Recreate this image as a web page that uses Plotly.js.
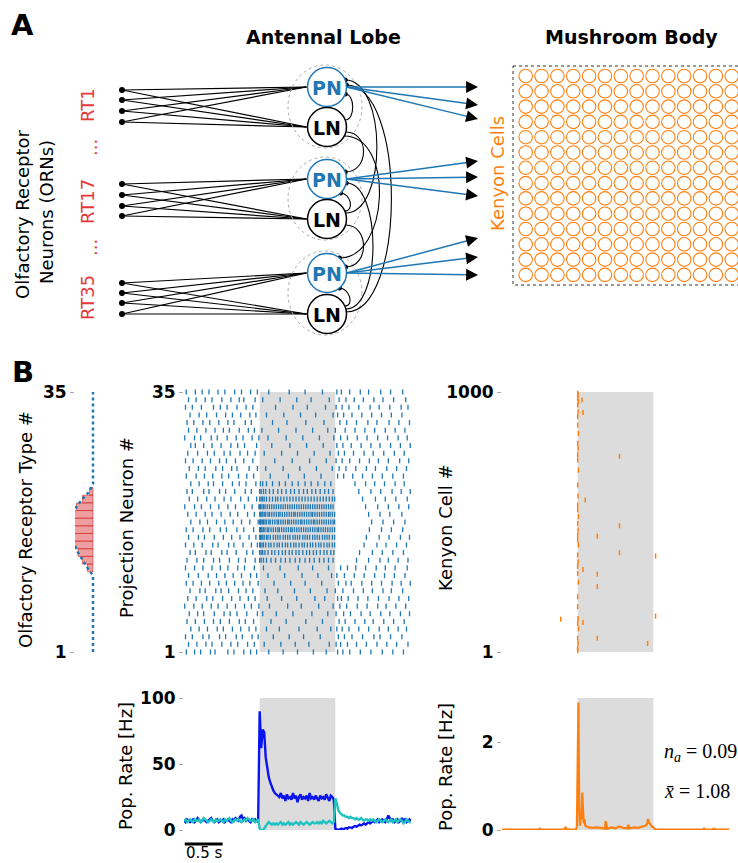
<!DOCTYPE html>
<html><head><meta charset="utf-8">
<script src="https://cdn.plot.ly/plotly-3.0.1.min.js"></script>
<style>html,body{margin:0;padding:0;background:#fff}#chart{width:738px;height:863px}</style>
</head><body><div id="chart"></div>
<script>
const W = 738, H = 863;

// ---------------- DATA ----------------
// ORN activation per receptor type (types 1..35)
const ornTypes = Array.from({length: 35}, (_, i) => i + 1);
const ornActive = {12:0.24,13:0.46,14:0.65,15:0.8,16:0.94,17:0.97,18:0.94,19:0.87,20:0.72,21:0.46,22:0.15};
const ornAct = ornTypes.map(t => ornActive[t] || 0);
const ornBarTypes = [12,13,14,15,16,17,18,19,20,21,22];
const ornBarVals  = [0.24,0.46,0.65,0.8,0.94,0.97,0.94,0.87,0.72,0.46,0.15];

// PN spike times (units of 10 ms), one list per projection neuron, row 1 .. 35
const pnRows = [
 [3,14,22,35,41,58,66,79,88,96,112,131,150,171,188,203,210,219,233,247,262,276,290],
 [6,17,29,37,50,62,71,84,93,106,128,147,165,192,201,207,216,228,241,255,268,281,296],
 [2,11,25,33,47,55,69,77,90,98,118,139,158,180,204,212,222,236,251,259,273,288],
 [9,20,31,44,52,64,75,86,95,109,126,152,176,194,202,209,218,231,244,258,270,283,294],
 [4,15,27,39,48,60,73,81,92,115,135,161,183,205,213,226,239,250,264,277,291],
 [7,18,26,40,53,61,70,83,97,104,122,144,169,190,201,211,220,234,246,260,272,286,298],
 [1,13,24,36,45,57,68,80,89,99,113,137,155,178,197,206,215,229,242,256,267,280,293],
 [5,16,30,38,51,63,74,85,94,110,129,149,173,186,203,208,217,230,243,257,271,284,297],
 [8,21,28,42,49,59,72,82,91,107,124,146,167,189,200,210,224,237,249,263,274,289],
 [3,12,23,34,46,56,67,78,87,98,119,141,160,182,204,214,221,235,248,261,275,287,299],
 [6,19,32,43,54,65,76,88,96,111,133,156,177,195,202,212,225,238,252,265,278,292],
 [2,14,25,37,48,58,71,80,93,105,127,151,170,191,207,216,227,240,254,266,279,295],
 [4,17,26,39,47,60,72,81,94,100,102,105,109,115,121,128,134,140,147,153,160,166,172,179,185,191,197,228,244,259,270,283,296],
 [8,15,29,36,50,57,69,83,91,100,102,104,107,111,116,120,125,130,134,139,143,148,152,157,162,166,171,175,180,185,189,194,198,232,249,262,276,290],
 [2,13,24,38,45,59,66,78,89,97,100,101,103,105,108,112,115,119,123,126,130,134,137,141,145,148,152,156,159,163,167,170,174,178,181,185,189,192,196,199,238,255,267,281,294],
 [6,19,27,40,52,63,74,86,95,100,101,102,104,106,109,111,114,118,121,124,127,131,134,137,140,144,147,150,153,157,160,163,166,170,173,176,179,183,186,189,192,196,199,241,258,271,286,298],
 [3,12,25,34,48,56,70,79,92,100,101,102,103,105,107,110,112,115,118,121,124,126,129,132,135,138,141,143,146,149,152,155,158,161,164,167,170,173,176,178,181,184,187,190,193,196,199,245,261,274,289],
 [9,21,31,43,54,65,76,87,98,100,101,102,104,105,107,109,112,114,117,120,123,125,128,131,134,137,139,142,145,148,151,154,156,159,162,165,168,171,173,176,179,182,185,188,191,194,197,199,248,263,277,292],
 [5,16,28,37,49,61,71,84,93,100,101,103,104,106,108,111,113,116,119,122,125,127,130,133,136,139,142,145,147,150,153,156,159,162,165,168,170,173,176,179,182,185,188,191,193,196,199,244,259,272,288],
 [1,14,23,35,46,58,68,80,90,99,100,101,103,105,107,110,113,116,119,122,125,128,131,134,137,140,143,146,149,152,155,158,161,164,167,170,173,176,179,182,185,188,191,194,197,240,256,270,284,297],
 [7,18,30,41,53,62,75,85,96,100,102,104,106,109,113,117,121,124,128,132,136,140,144,148,152,156,160,164,168,172,176,180,184,188,192,196,199,236,253,266,280,295],
 [4,11,26,33,47,55,67,81,89,100,102,105,108,113,118,124,129,135,141,146,152,158,163,169,174,180,186,191,197,231,247,260,275,287,299],
 [9,20,32,39,51,64,73,82,95,101,104,109,117,126,134,143,151,160,168,177,186,194,226,240,252,265,279,291],
 [3,16,27,38,50,59,72,83,92,114,138,159,181,203,211,223,236,249,262,276,290],
 [7,19,28,42,51,63,70,86,97,108,131,153,175,196,205,214,227,241,253,268,281,294],
 [2,12,24,35,47,56,68,79,91,120,143,166,188,201,209,219,232,245,257,270,285,297],
 [5,18,31,40,53,61,74,84,94,106,129,150,172,193,204,212,224,238,250,264,278,291],
 [9,15,26,37,49,62,71,80,96,116,140,162,184,202,210,221,234,247,259,273,286,299],
 [1,14,22,36,44,57,69,78,90,99,111,135,157,179,198,207,216,229,242,256,269,283,295],
 [6,17,29,41,52,60,73,85,93,103,125,148,170,190,200,213,226,239,252,266,279,292],
 [4,13,25,34,46,58,66,81,89,117,136,161,185,206,215,228,243,255,271,284,298],
 [8,20,30,43,55,64,75,87,95,109,132,154,174,197,203,211,222,235,248,261,274,288],
 [2,11,23,39,48,57,70,82,91,121,144,163,187,201,209,218,231,246,258,272,287,296],
 [6,16,28,37,50,62,73,79,94,104,127,149,168,192,205,214,225,237,251,263,277,293],
 [3,15,24,33,45,54,67,76,88,97,112,139,160,183,202,208,219,233,244,260,273,289]
];

// KC spikes: time [s] and cell index
const kcSpikeT = [1.0,1.005,1.0,1.01,1.0,1.005,1.0,1.0,1.01,1.0,1.005,1.0,1.0,1.01,1.0,1.005,1.0,1.0,1.01,1.0,1.005,1.0,1.0,1.01,1.0,1.005,1.0,1.0,1.01,1.0,1.0,1.005,1.0,1.01,1.0,1.005,1.0,1.0,
  1.057,1.07,1.553,1.10,1.553,1.26,1.553,2.03,1.07,1.26,1.26,0.776,2.03,1.07,1.26,1.925];
const kcSpikeCell = [995,988,975,963,950,924,905,873,841,803,784,760,739,700,643,600,566,547,521,495,470,450,431,412,374,348,330,303,270,213,175,130,111,90,54,35,15,6,
  969,921,753,585,486,446,382,370,318,300,252,127,139,114,54,34];

// Population rates, sampled every 20 ms from 0 to 3 s
const dt = 0.02;
const pnRateActivated = [
 7,6,8,7,6,7,8,6,7,9, 7,6,7,8,7,6,7,8,9,7, 6,7,8,6,7,7,8,6,7,8, 7,6,8,7,9,8,7,10,11,8, 9,7,8,7,6,8,7,8,7,6,
 90,62,76,74,55,46,40,36,32,30, 28,27,26,25,28,24,26,22,27,24, 25,23,28,24,26,21,25,27,23,25, 24,26,22,28,24,25,23,26,24,22, 26,24,25,23,27,24,22,26,25,23,
 1,0.5,0,0.5,1,0.5,1,1.5,1,2, 2,1.5,2.5,3,2.5,3,4,3.5,4,5, 4,5,6,5,6,7,6,7,8,6, 7,8,7,6,8,11,9,7,8,6, 7,8,6,7,9,7,8,6,7,8, 7];
const pnRateOther = [
 7,8,6,7,8,7,6,8,7,7, 8,6,7,9,8,7,6,7,8,7, 6,8,7,7,8,7,6,8,7,8, 9,7,6,7,8,7,8,7,6,7, 8,7,9,8,7,7,8,6,7,8,
 1,0,0,1,3,5,6,5,4,5, 4,5,4,5,6,4,5,4,5,6, 4,5,4,5,6,5,4,6,5,4, 5,6,5,4,5,6,5,5,6,5, 6,5,7,6,5,6,7,6,5,6,
 24,20,15,13,12,11,11,10,10,9, 10,9,9,8,9,8,8,9,8,7, 8,8,7,8,7,8,7,6,7,8, 7,6,7,8,7,6,7,8,6,7, 8,6,7,8,7,5,6,8,7,6, 6];
const pnRateT = pnRateActivated.map((_, i) => +(i * dt).toFixed(2));

const kcRateT = [0,0.1,0.2,0.3,0.4,0.49,0.5,0.51,0.6,0.7,0.8,0.83,0.84,0.85,0.9,0.95,0.98,0.99,1.0,1.01,1.02,1.03,1.04,1.05,1.06,1.07,1.08,1.09,1.1,1.12,1.15,1.2,1.25,1.3,1.36,1.37,1.38,1.39,1.45,1.5,1.55,1.6,1.66,1.67,1.68,1.75,1.8,1.85,1.9,1.92,1.93,1.94,1.96,1.98,2.0,2.02,2.05,2.1,2.2,2.3,2.4,2.5,2.6,2.66,2.67,2.68,2.78,2.8,2.82,2.9,3.0];
const kcRate  = [0.01,0.01,0.01,0.01,0.01,0.01,0.03,0.01,0.01,0.01,0.01,0.01,0.07,0.02,0.01,0.01,0.01,0.1,1.6,2.9,0.5,0.1,0.3,0.25,0.85,0.3,0.15,0.25,0.1,0.08,0.06,0.05,0.06,0.05,0.03,0.2,0.1,0.03,0.06,0.04,0.08,0.05,0.04,0.12,0.04,0.06,0.05,0.07,0.1,0.15,0.25,0.18,0.12,0.08,0.06,0.02,0.01,0.01,0.01,0.01,0.01,0.01,0.01,0.01,0.03,0.01,0.01,0.03,0.01,0.01,0.01];

const stimOn = 1.0, stimOff = 2.0;
const naText = '<i>n</i><sub><i>a</i></sub> = 0.09';
const xbarText = '<i>x\u0304</i> = 1.08';

// ---------------- SCHEMATIC GEOMETRY (layout, pixels) ----------------
const geo = {
  ornX: 122, ornY: [[90,100,111,122],[184,195,206,216],[283,293,303,314]],
  cx: 327, R: 19.5, pnY: [87,179,273], lnY: [127,219,314],
  kcTargets: [[87,105,119],[161,177,196],[238,257,275]], tipX: 478,
  gridX0: 525.7, gridDX: 15.85, gridNX: 14, gridY0: 76, gridDY: 15.3, gridNY: 14
};

const BLUE = '#1f77b4', ORANGE = '#ff7f0e', RED = '#e5383b';
const FF = 'DejaVu Sans';
const xd = (a, b) => [a / W, b / W];
const yd = (top, bot) => [1 - bot / H, 1 - top / H];

const traces = [];
const shapes = [];
const ann = [];

// ORN fan lines
{
  const lx = [], ly = [];
  geo.ornY.forEach((grp, g) => {
    grp.forEach(y => {
      lx.push(geo.ornX, geo.cx - geo.R - 1, null, geo.ornX, geo.cx - geo.R - 1, null);
      ly.push(y, geo.pnY[g], null, y, geo.lnY[g], null);
    });
  });
  traces.push({x: lx, y: ly, mode: 'lines', line: {color: '#000', width: 1.2}, xaxis: 'x', yaxis: 'y', hoverinfo: 'skip'});
  const dx = [], dy = [];
  geo.ornY.forEach(grp => grp.forEach(y => { dx.push(geo.ornX); dy.push(y); }));
  traces.push({x: dx, y: dy, mode: 'markers', marker: {color: '#000', size: 6}, xaxis: 'x', yaxis: 'y', hoverinfo: 'skip'});
}

// dashed glomerulus ellipses, PN and LN circles
for (let g = 0; g < 3; g++) {
  shapes.push({type: 'circle', xref: 'x', yref: 'y', x0: 288, x1: 362, y0: geo.pnY[g] - 22, y1: geo.lnY[g] + 21,
    line: {color: '#aaa', width: 1, dash: '3px,3px'}});
}
// LN -> PN inhibitory arcs: [ln, pn, startOffset, endOffset, bulge]
const arcs = [[0,0,-7,7,10],[0,1,5,-7,24],[0,2,9,-15,50],
              [1,0,-6,-7,42],[1,1,-8,14,10],[1,2,6,-6,24],
              [2,0,-2,-2,60],[2,1,-5,4,36],[2,2,-8,15,10]];
const synX = [], synY = [];
arcs.forEach(([l, p, so, eo, b]) => {
  const y0 = geo.lnY[l] + so, x0 = geo.cx + Math.sqrt(geo.R * geo.R - so * so);
  const y1 = geo.pnY[p] + eo, x1 = geo.cx + Math.sqrt(geo.R * geo.R - eo * eo);
  shapes.push({type: 'path', xref: 'x', yref: 'y', line: {color: '#000', width: 1.1},
    path: `M${x0},${y0} C${x0 + b},${y0} ${x1 + b},${y1} ${x1},${y1}`});
  synX.push(x1); synY.push(y1);
});
traces.push({x: synX, y: synY, mode: 'markers', marker: {color: '#000', size: 5}, xaxis: 'x', yaxis: 'y', hoverinfo: 'skip'});

for (let g = 0; g < 3; g++) {
  shapes.push({type: 'circle', xref: 'x', yref: 'y', x0: geo.cx - geo.R, x1: geo.cx + geo.R, y0: geo.pnY[g] - geo.R, y1: geo.pnY[g] + geo.R,
    fillcolor: '#fff', line: {color: BLUE, width: 1.5}});
  shapes.push({type: 'circle', xref: 'x', yref: 'y', x0: geo.cx - geo.R, x1: geo.cx + geo.R, y0: geo.lnY[g] - geo.R, y1: geo.lnY[g] + geo.R,
    fillcolor: '#fff', line: {color: '#000', width: 1.5}});
  ann.push({x: geo.cx, y: geo.pnY[g] + 1, text: 'PN', showarrow: false, xanchor: 'center', yanchor: 'middle', font: {family: FF, size: 19, weight: 'bold', color: BLUE}});
  ann.push({x: geo.cx, y: geo.lnY[g] + 1, text: 'LN', showarrow: false, xanchor: 'center', yanchor: 'middle', font: {family: FF, size: 19, weight: 'bold', color: '#000'}});
}

// PN -> KC arrows
geo.kcTargets.forEach((ts, g) => {
  const sx = geo.cx + geo.R, sy = geo.pnY[g];
  ts.forEach(ty => {
    const ddx = geo.tipX - sx, ddy = ty - sy, L = Math.hypot(ddx, ddy);
    const tx = geo.tipX - 9 * ddx / L, tyy = ty - 9 * ddy / L;
    shapes.push({type: 'line', xref: 'x', yref: 'y', x0: sx, y0: sy, x1: tx, y1: tyy, line: {color: BLUE, width: 1.5}});
    ann.push({x: geo.tipX, y: ty, ax: tx, ay: tyy, axref: 'x', ayref: 'y', text: '', showarrow: true,
      arrowhead: 2, arrowsize: 1.7, arrowwidth: 1.4, arrowcolor: '#000', standoff: 0, startstandoff: 0});
  });
});

// Kenyon cell grid
{
  const gx = [], gy = [];
  for (let r = 0; r < geo.gridNY; r++) for (let c = 0; c < geo.gridNX; c++) {
    gx.push(geo.gridX0 + c * geo.gridDX); gy.push(geo.gridY0 + r * geo.gridDY);
  }
  traces.push({x: gx, y: gy, mode: 'markers', xaxis: 'x', yaxis: 'y', hoverinfo: 'skip',
    marker: {symbol: 'circle-open', size: 13.5, color: ORANGE, line: {color: ORANGE, width: 1.1}}});
  shapes.push({type: 'rect', xref: 'x', yref: 'y', x0: 513, x1: 760, y0: 66, y1: 285, line: {color: '#333', width: 1, dash: '3px,3px'}});
}

// ---------------- PANEL B TRACES ----------------
traces.push({type: 'bar', orientation: 'h', x: ornBarVals, y: ornBarTypes, width: 1, base: 0,
  marker: {color: 'rgba(214,39,40,0.45)', line: {color: 'rgba(214,39,40,0.55)', width: 1}},
  xaxis: 'x2', yaxis: 'y2', cliponaxis: false, hoverinfo: 'skip'});
traces.push({x: ornAct, y: ornTypes, mode: 'lines', line: {color: BLUE, width: 2.5, dash: '3px,3px'},
  xaxis: 'x2', yaxis: 'y2', cliponaxis: false, hoverinfo: 'skip'});

{
  const px = [], py = [];
  pnRows.forEach((row, i) => row.forEach(t => { px.push(t / 100); py.push(i + 1); }));
  traces.push({x: px, y: py, mode: 'markers', xaxis: 'x3', yaxis: 'y3', cliponaxis: false, hoverinfo: 'skip',
    marker: {symbol: 'line-ns-open', size: 3.6, color: BLUE, line: {color: BLUE, width: 1.3}}});
}
traces.push({x: kcSpikeT, y: kcSpikeCell, mode: 'markers', xaxis: 'x4', yaxis: 'y4', cliponaxis: false, hoverinfo: 'skip',
  marker: {symbol: 'line-ns-open', size: 3.6, color: ORANGE, line: {color: ORANGE, width: 1.5}}});

traces.push({x: pnRateT, y: pnRateActivated, mode: 'lines', line: {color: '#0a14f0', width: 2.4}, xaxis: 'x5', yaxis: 'y5', cliponaxis: false, hoverinfo: 'skip'});
traces.push({x: pnRateT, y: pnRateOther, mode: 'lines', line: {color: '#1fc1c1', width: 2.4}, xaxis: 'x5', yaxis: 'y5', cliponaxis: false, hoverinfo: 'skip'});
traces.push({x: kcRateT, y: kcRate, mode: 'lines', line: {color: ORANGE, width: 2.2}, xaxis: 'x6', yaxis: 'y6', cliponaxis: false, hoverinfo: 'skip'});

// stimulus windows
['3','4','5','6'].forEach(k => {
  shapes.push({type: 'rect', xref: 'x' + k, yref: 'y' + k + ' domain', x0: stimOn, x1: stimOff, y0: 0, y1: 1,
    fillcolor: '#dcdcdc', line: {width: 0}, layer: 'below'});
});
// scale bar 0.5 s
shapes.push({type: 'line', xref: 'x5', yref: 'y', x0: 0.01, x1: 0.51, y0: 844, y1: 844, line: {color: '#000', width: 3}});

// ---------------- TEXT ----------------
const txt = (x, y, text, size, opts = {}) => ann.push(Object.assign({x, y, text, showarrow: false, xanchor: 'center', yanchor: 'middle',
  font: {family: FF, size, color: opts.color || '#000', weight: opts.bold ? 'bold' : 'normal'}}, opts.extra || {}));
txt(22, 25, 'A', 29, {bold: true});
txt(323, 37, 'Antennal Lobe', 19, {bold: true});
txt(631, 37, 'Mushroom Body', 19, {bold: true});
const rot = {textangle: -90};
txt(87, 105, 'RT1', 18, {color: RED, extra: rot});
txt(90, 148, '...', 18, {color: RED, extra: rot});
txt(87, 202, 'RT17', 18, {color: RED, extra: rot});
txt(90, 248, '...', 18, {color: RED, extra: rot});
txt(87, 298, 'RT35', 18, {color: RED, extra: rot});
txt(22, 214, 'Olfactory Receptor', 18, {extra: rot});
txt(46, 212, 'Neurons (ORNs)', 18, {extra: rot});
txt(497, 174, 'Kenyon Cells', 18, {color: ORANGE, extra: rot});
txt(23, 372, 'B', 29, {bold: true});
txt(25, 530, 'Olfactory Receptor Type #', 18, {extra: rot});
txt(126, 528, 'Projection Neuron #', 18, {extra: rot});
txt(445, 528, 'Kenyon Cell #', 18, {extra: rot});
txt(125, 766, 'Pop. Rate [Hz]', 18, {extra: rot});
txt(445, 767, 'Pop. Rate [Hz]', 18, {extra: rot});
txt(204, 862, '0.5 s', 15, {extra: {yanchor: 'bottom', yshift: -2}});
ann.push({x: 662, y: 752, text: naText, showarrow: false, xanchor: 'left', yanchor: 'middle', font: {family: 'Liberation Serif', size: 20, color: '#000'}});
ann.push({x: 662, y: 791, text: xbarText, showarrow: false, xanchor: 'left', yanchor: 'middle', font: {family: 'Liberation Serif', size: 20, color: '#000'}});
ann.forEach(a => { if (!a.xref) { a.xref = 'x'; a.yref = 'y'; } });

// ---------------- AXES ----------------
const tickFont = {family: FF, size: 17, weight: 'bold', color: '#000'};
const yAx = (dom, range, vals, texts, anchor) => ({domain: dom, range, tickvals: vals, ticktext: texts, anchor,
  ticks: 'outside', ticklen: 4, tickwidth: 1, tickcolor: '#aaa', showgrid: false, zeroline: false, showline: false,
  tickfont: tickFont, fixedrange: true});
const xAx = (dom, range, anchor) => ({domain: dom, range, anchor, visible: false, fixedrange: true, showgrid: false, zeroline: false});

const layout = {
  width: W, height: H, margin: {l: 0, r: 0, t: 0, b: 0, pad: 0},
  paper_bgcolor: '#fff', plot_bgcolor: 'rgba(0,0,0,0)', showlegend: false, barmode: 'overlay',
  xaxis: {domain: [0, 1], range: [0, W], visible: false, fixedrange: true, anchor: 'y'},
  yaxis: {domain: [0, 1], range: [H, 0], visible: false, fixedrange: true, anchor: 'x'},
  xaxis2: xAx(xd(75, 100), [0.783, -0.304], 'y2'),
  yaxis2: yAx(yd(392, 652), [1, 35], [1, 35], ['1', '35'], 'x2'),
  xaxis3: xAx(xd(184, 411), [0, 3], 'y3'),
  yaxis3: yAx(yd(392, 652), [1, 35], [1, 35], ['1', '35'], 'x3'),
  xaxis4: xAx(xd(502, 729), [0, 3], 'y4'),
  yaxis4: yAx(yd(392, 652), [1, 1000], [1, 1000], ['1', '1000'], 'x4'),
  xaxis5: xAx(xd(184, 411), [0, 3], 'y5'),
  yaxis5: yAx(yd(698, 830), [0, 100], [0, 50, 100], ['0', '50', '100'], 'x5'),
  xaxis6: xAx(xd(502, 729), [0, 3], 'y6'),
  yaxis6: yAx(yd(698, 830), [0, 3], [0, 2], ['0', '2'], 'x6'),
  shapes, annotations: ann
};

Plotly.newPlot('chart', traces, layout, {staticPlot: true, displayModeBar: false});
</script></body></html>
